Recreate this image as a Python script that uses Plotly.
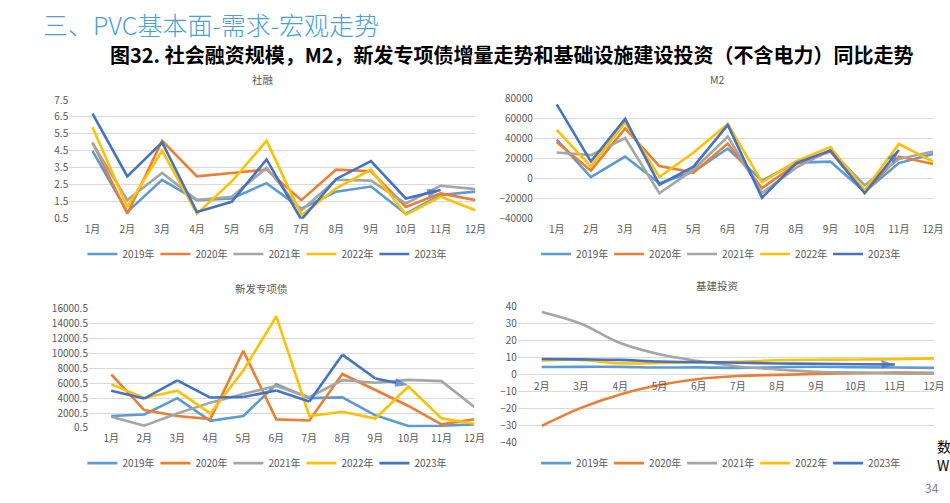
import plotly.graph_objects as go

W, H = 950, 503

months = ["1月", "2月", "3月", "4月", "5月", "6月", "7月", "8月", "9月", "10月", "11月", "12月"]
months_inv = ["2月", "3月", "4月", "5月", "6月", "7月", "8月", "9月", "10月", "11月", "12月"]
years = ["2019年", "2020年", "2021年", "2022年", "2023年"]
colors = ["#5B9BD5", "#ED7D31", "#A5A5A5", "#FFC000", "#4472C4"]

# 社融
tsf_2019 = [4.5, 0.9, 2.8, 1.6, 1.7, 2.6, 1.1, 2.1, 2.4, 0.8, 1.9, 2.1]
tsf_2020 = [5.0, 0.8, 5.1, 3.0, 3.2, 3.4, 1.6, 3.4, 3.3, 1.2, 2.0, 1.6]
tsf_2021 = [4.95, 1.6, 3.2, 1.6, 1.8, 3.5, 1.0, 2.8, 2.75, 1.4, 2.45, 2.25]
tsf_2022 = [5.9, 1.2, 4.5, 0.8, 2.7, 5.1, 0.7, 2.3, 3.4, 0.75, 1.8, 1.0]
tsf_2023 = [6.7, 3.0, 5.0, 0.9, 1.5, 4.0, 0.45, 2.85, 3.9, 1.7, 2.2]

# M2
m2_2019 = [39000, 1500, 22000, -4500, 7000, 30000, -2000, 16000, 17000, -13000, 15500, 24500]
m2_2020 = [36500, 8000, 50000, 12500, 6000, 35000, -9500, 14500, 27000, -13500, 22000, 14500]
m2_2021 = [26000, 23500, 40500, -14500, 9000, 42000, -14500, 11000, 28500, -6500, 19500, 27000]
m2_2022 = [48500, 12000, 56000, 1700, 26000, 54500, -3500, 17500, 31500, -11500, 34500, 17000]
m2_2023 = [74000, 17000, 59500, -6000, 12000, 53500, -19000, 15500, 28000, -14500, 28500]

# 新发专项债
sb_2019 = [1600, 1800, 4000, 950, 1600, 5850, 4000, 4100, 1700, 260, 300, 480]
sb_2020 = [7200, 2400, 1600, 1200, 10350, 1150, 1000, 7250, 5100, 2950, 480, 1170]
sb_2021 = [1500, 300, 1950, 3400, 4550, 5640, 4120, 6420, 6070, 6460, 6290, 2820]
sb_2022 = [5850, 4030, 5000, 1950, 7720, 15000, 1600, 2170, 1260, 5550, 1300, 560]
sb_2023 = [5000, 3950, 6380, 4080, 4160, 5030, 3550, 9850, 6640, 5750]

# 基建投资（不含电力）累计同比
inv_2019 = [4.3, 4.4, 4.4, 4.0, 4.1, 3.8, 4.2, 4.5, 4.2, 4.0, 3.8]
inv_2020 = [-30.3, -19.7, -11.8, -6.3, -2.7, -1.0, -0.3, 0.2, 0.7, 1.0, 0.9]
inv_2021 = [36.6, 29.7, 18.4, 11.8, 7.8, 4.6, 2.9, 1.5, 1.0, 0.5, 0.4]
inv_2022 = [8.1, 8.5, 6.5, 6.7, 7.1, 7.4, 8.3, 8.6, 8.7, 8.9, 9.4]
inv_2023 = [9.0, 8.8, 8.5, 7.5, 7.2, 6.8, 6.4, 6.2, 5.9, 5.8]

panels = [
    dict(x=months, series=[tsf_2019, tsf_2020, tsf_2021, tsf_2022, tsf_2023], xa="x", ya="y", lg="legend", shape="linear"),
    dict(x=months, series=[m2_2019, m2_2020, m2_2021, m2_2022, m2_2023], xa="x2", ya="y2", lg="legend2", shape="linear"),
    dict(x=months, series=[sb_2019, sb_2020, sb_2021, sb_2022, sb_2023], xa="x3", ya="y3", lg="legend3", shape="linear"),
    dict(x=months_inv, series=[inv_2019, inv_2020, inv_2021, inv_2022, inv_2023], xa="x4", ya="y4", lg="legend4", shape="spline"),
]

FONT = "Noto Sans CJK SC, Microsoft YaHei, sans-serif"
GRAY = "#595959"
GRID = "#D9D9D9"

fig = go.Figure()
for p in panels:
    for i, (yr, vals) in enumerate(zip(years, p["series"])):
        xs = p["x"][:len(vals)]
        if i == 4:
            sizes = [0] * (len(vals) - 1) + [14]
            fig.add_trace(go.Scatter(
                x=xs, y=vals, name=yr, mode="lines+markers",
                line=dict(color=colors[i], width=2.6, shape=p["shape"]),
                marker=dict(symbol="arrow", size=sizes, angleref="previous", color=colors[i],
                            line=dict(width=0)),
                xaxis=p["xa"], yaxis=p["ya"], legend=p["lg"], hoverinfo="skip"))
        else:
            fig.add_trace(go.Scatter(
                x=xs, y=vals, name=yr, mode="lines",
                line=dict(color=colors[i], width=2.6, shape=p["shape"]),
                xaxis=p["xa"], yaxis=p["ya"], legend=p["lg"], hoverinfo="skip"))


def px_x(v):
    return v / W


def px_y(v):
    return 1 - v / H


tick_font = dict(family=FONT, size=10, color=GRAY)
xcommon = dict(type="category", showgrid=False, showline=False, zeroline=False, ticks="",
               tickfont=tick_font, fixedrange=True)
ycommon = dict(showgrid=True, gridcolor=GRID, gridwidth=1, showline=False, zeroline=False,
               ticks="", tickfont=tick_font, fixedrange=True)

# domains (pixel-measured)
d_tl_x = [px_x(70), px_x(481)]
d_tr_x = [px_x(540), px_x(944)]
d_bl_x = [px_x(90), px_x(480)]
d_br_x = [px_x(524), px_x(945)]
d_top_y = [px_y(216.7), px_y(94)]
d_m2_y = [px_y(216.7), px_y(92.3)]
d_bl_y = [px_y(432.7), px_y(309.7)]
d_br_y = [px_y(447.7), px_y(307)]

br_range = [-40, 40]
br_zero_pos = d_br_y[0] + (0 - br_range[0]) / (br_range[1] - br_range[0]) * (d_br_y[1] - d_br_y[0])

fig.update_layout(
    width=W, height=H,
    margin=dict(l=0, r=0, t=0, b=0),
    paper_bgcolor="white", plot_bgcolor="white",
    font=dict(family=FONT, color=GRAY),
    hovermode=False,
    xaxis=dict(xcommon, domain=d_tl_x, anchor="y", categoryorder="array", categoryarray=months,
               ticklabelstandoff=3),
    yaxis=dict(ycommon, domain=d_top_y, anchor="x", range=[0.5, 7.5], tick0=0.5, dtick=1, tickformat=".1f"),
    xaxis2=dict(xcommon, domain=d_tr_x, anchor="y2", categoryorder="array", categoryarray=months,
                ticklabelstandoff=3),
    yaxis2=dict(ycommon, domain=d_m2_y, anchor="x2", range=[-40000, 80000], dtick=20000, tickformat="d"),
    xaxis3=dict(xcommon, domain=d_bl_x, anchor="y3", categoryorder="array", categoryarray=months,
                ticklabelstandoff=3),
    yaxis3=dict(ycommon, domain=d_bl_y, anchor="x3", range=[0.5, 16000.5], tick0=0.5, dtick=2000, tickformat=".1f"),
    xaxis4=dict(xcommon, domain=d_br_x, anchor="free", position=br_zero_pos, categoryorder="array",
                categoryarray=months_inv, ticklabelstandoff=5),
    yaxis4=dict(ycommon, domain=d_br_y, anchor="x4", range=br_range, dtick=10),
)

legend_common = dict(orientation="h", xanchor="center", yanchor="middle", bgcolor="rgba(0,0,0,0)",
                     font=dict(family=FONT, size=10, color=GRAY), itemwidth=30,
                     entrywidth=28, entrywidthmode="pixels", itemclick=False, itemdoubleclick=False)
fig.update_layout(
    legend=dict(legend_common, x=px_x(268), y=px_y(253)),
    legend2=dict(legend_common, x=px_x(727), y=px_y(253)),
    legend3=dict(legend_common, x=px_x(268), y=px_y(469)),
    legend4=dict(legend_common, x=px_x(727), y=px_y(469)),
)

annotations = [
    dict(text="三、PVC基本面-需求-宏观走势", x=px_x(41), y=px_y(15), xanchor="left", yanchor="middle",
         font=dict(family=FONT, size=25, color="#4A9FDB", weight=300)),
    dict(text="<b>图32. 社会融资规模，M2，新发专项债增量走势和基础设施建设投资（不含电力）同比走势</b>",
         x=px_x(518), y=px_y(47), xanchor="center", yanchor="middle",
         font=dict(family=FONT, size=20, color="#000000")),
    dict(text="社融", x=px_x(266), y=px_y(73), xanchor="center", yanchor="middle",
         font=dict(family=FONT, size=10.5, color=GRAY)),
    dict(text="M2", x=px_x(726), y=px_y(73), xanchor="center", yanchor="middle",
         font=dict(family=FONT, size=10.5, color=GRAY)),
    dict(text="新发专项债", x=px_x(265), y=px_y(289), xanchor="center", yanchor="middle",
         font=dict(family=FONT, size=10.5, color=GRAY)),
    dict(text="基建投资", x=px_x(725), y=px_y(286), xanchor="center", yanchor="middle",
         font=dict(family=FONT, size=10.5, color=GRAY)),
    dict(text="34", x=px_x(934), y=px_y(494), xanchor="left", yanchor="middle",
         font=dict(family=FONT, size=12, color="#7F7F7F")),
    dict(text="数", x=px_x(946), y=px_y(451), xanchor="left", yanchor="middle",
         font=dict(family=FONT, size=14, color="#000000")),
    dict(text="W", x=px_x(946), y=px_y(471), xanchor="left", yanchor="middle",
         font=dict(family=FONT, size=14, color="#000000")),
]
for a in annotations:
    a.update(xref="paper", yref="paper", showarrow=False)
fig.update_layout(annotations=annotations)

fig.write_html("out.html", config={"displayModeBar": False, "staticPlot": True},
               post_script="document.body.style.margin='0';document.body.style.overflow='hidden';")
